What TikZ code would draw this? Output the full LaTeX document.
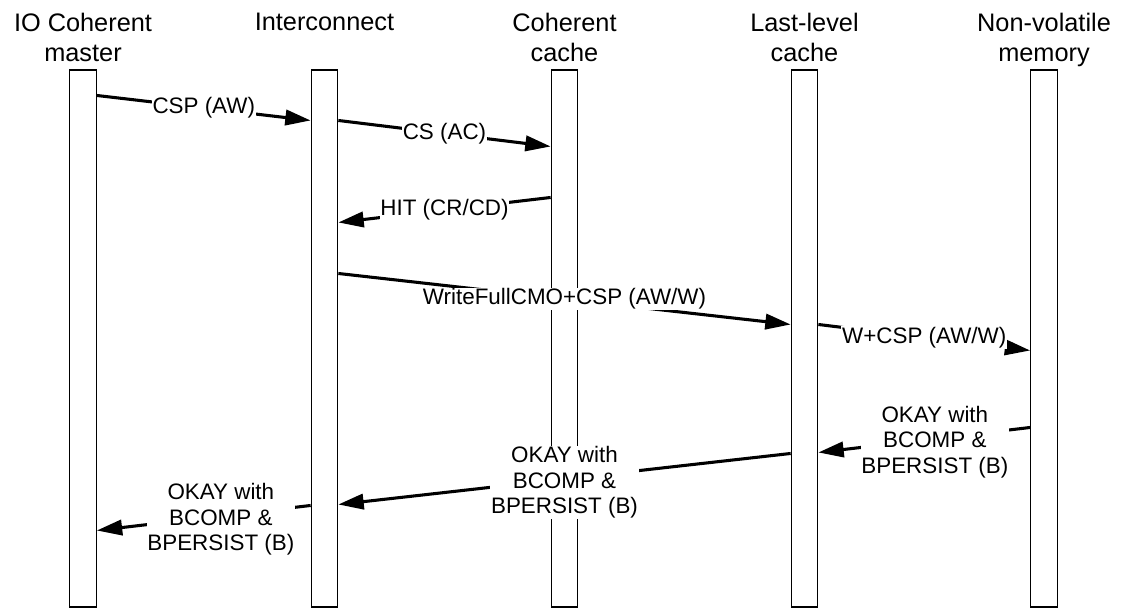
\documentclass[tikz,border=0pt]{standalone}
\usepackage{fontspec}
\setmainfont{Liberation Sans}
\usetikzlibrary{arrows.meta,calc,positioning}

\begin{document}
\begin{tikzpicture}[
  x=0.75pt, y=-0.75pt,
  life/.style={draw, line width=0.8pt, minimum width=20pt, minimum height=402.75pt, inner sep=0pt},
  head/.style={anchor=north, align=center, inner sep=0pt, font=\fontsize{19}{22.3}\selectfont},
  msg/.style={-{Triangle[length=19pt,width=11.5pt]}, line width=2.3pt},
  lbl/.style={fill=white, inner sep=0.6pt, align=center, font=\fontsize{16.8}{19}\selectfont},
  resp/.style={lbl, yshift=-2.5pt}
]
\useasboundingbox (0,0) rectangle (1126,608);

\node[life] (master) at (83,338.5) {};
\node[life] (icn) at (324.5,338.5) {};
\node[life] (cc) at (564.5,338.5) {};
\node[life] (llc) at (804.5,338.5) {};
\node[life] (nvm) at (1044,338.5) {};

\node[head] (h-master) at (master.north |- 0,13) {IO Coherent\\master};
\node[head] (h-icn) at (icn.north |- 0,13) {Interconnect};
\node[head] (h-cc) at (cc.north |- 0,13) {Coherent\\cache};
\node[head] (h-llc) at (llc.north |- 0,13) {Last-level\\cache};
\node[head] (h-nvm) at (nvm.north |- 0,13) {Non-volatile\\memory};

\draw[msg] ($(master.north east)+(0,26)$) -- node[lbl] {CSP (AW)} ($(icn.north west)+(0,51)$);
\draw[msg] ($(icn.north east)+(0,51)$) -- node[lbl] {CS (AC)} ($(cc.north west)+(0,77)$);
\draw[msg] ($(cc.north west)+(0,128)$) -- node[lbl] {HIT (CR/CD)} ($(icn.north east)+(0,153)$);
\draw[msg] ($(icn.north east)+(0,204)$) -- node[lbl] {WriteFullCMO+CSP (AW/W)} ($(llc.north west)+(0,255)$);
\draw[msg] ($(llc.north east)+(0,255)$) -- node[lbl] {W+CSP (AW/W)} ($(nvm.north west)+(0,281)$);
\draw[msg] ($(nvm.north west)+(0,358)$) -- node[resp, pos=0.45] {OKAY with\\BCOMP \&\\BPERSIST (B)} ($(llc.north east)+(0,383)$);
\draw[msg] ($(llc.north west)+(0,384)$) -- node[resp] {OKAY with\\BCOMP \&\\BPERSIST (B)} ($(icn.north east)+(0,435)$);
\draw[msg] ($(icn.north west)+(0,436)$) -- node[resp, pos=0.42] {OKAY with\\BCOMP \&\\BPERSIST (B)} ($(master.north east)+(0,461)$);
\end{tikzpicture}
\end{document}
